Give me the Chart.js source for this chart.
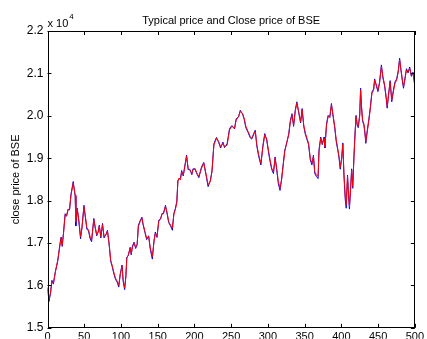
<!DOCTYPE html>
<html>
<head>
<meta charset="utf-8">
<script src="https://cdn.jsdelivr.net/npm/chart.js"></script>
<style>
html,body{margin:0;padding:0;background:#fff;}
#wrap{width:427px;height:339px;position:relative;}
</style>
</head>
<body>
<div id="wrap"><canvas id="c" width="427" height="339"></canvas></div>
<script>
// ---- data (prices in rupees; axis shows x 10^4) ----
const days = [0,2,4,6,8,10.6,14,17,18.6,20,21.7,24,26,28,30,32,35,37.7,38.6,40.5,42.6,45,47,49.6,51,53.6,55.8,58,60,63,64.7,67,69,70.5,72.6,74.9,77,79.8,81.6,83.8,86,88,90.4,92.6,94.8,97,99,101.5,103,105,106.7,108,110,112.5,114,115.6,117.8,120,122,123.7,126,128.5,130,132.6,135,137.7,139.8,142.7,145,146.8,149,151.5,153.8,156,157.9,160.6,162.8,165,167.6,170,172,174,176,177.5,179,181,182.6,184.8,187,189.3,191.5,193.7,196.5,198,200.7,203.7,206,209.6,212.7,215.7,218.6,221.6,223.9,226.5,230,233,235.6,238.8,241,244.5,247.8,251,254.6,256.8,260,262.4,265.5,267.7,270,273,276,278,280.6,282.8,285,287.5,290.5,293,295.7,298.4,301,303,305.3,307.6,309.8,312,314.2,316.5,318.7,320.9,323,325.3,328.4,330.6,332.8,335,337.2,339.4,342,344.5,346.6,348.8,351,353.2,355.4,357.7,359.9,362,363.8,366,368.3,369.6,371.9,374,376.4,377.6,379.8,382,384.3,386.5,388.7,391,393,394.9,396.7,398.5,400.5,402,403.5,405.3,406.6,408.4,409.7,411,412.8,414,415.5,417.2,418.7,420,421.8,423,425,426.2,427.5,428.9,430.6,432,433.3,435,437.5,439.5,441.6,443.9,445.3,447.7,449.8,452,454.5,456.6,458.9,461,462.4,464.6,466.4,468.6,470.8,473,475.3,477.5,479.3,481,482.8,484.6,486.4,488.6,490.8,493,495.3,497.5,500];

const typicalPrice = [15900,15680,15820,16090,16050,16300,16600,16950,17120,16950,17200,17660,17650,17780,17800,18130,18410,18130,17500,17800,17550,17150,17360,17860,17700,17360,17310,17150,17070,17550,17400,17200,17250,17400,17150,17430,17150,17200,17280,17000,16600,16470,16300,16170,16100,16000,16250,16450,16120,15940,16200,16640,16720,16880,16750,16900,17000,16900,16950,17390,17500,17590,17460,17270,17110,17150,16900,16680,17040,17230,17150,17510,17580,17670,17710,17860,17710,17500,17420,17350,17670,17790,17950,18450,18530,18490,18680,18600,18800,19040,18760,18720,18640,18720,18760,18640,18570,18760,18880,18640,18370,18450,18680,19310,19470,19390,19270,19350,19270,19310,19670,19750,19710,19900,19980,20100,20060,19940,19750,19630,19510,19470,19550,19630,19310,19080,18880,19240,19550,19450,19160,18960,18760,18680,19000,18760,18450,18290,18490,18840,19160,19350,19550,19860,20020,19780,20100,20300,20100,19860,20140,19780,19590,19470,19350,19000,18880,19040,18680,18610,18570,19160,19470,19350,19470,19270,19780,19980,19980,20260,20020,19750,19430,19240,19060,18780,19000,19330,18650,18100,17900,18570,18180,17860,18330,18720,18330,19040,19590,19980,19780,19750,20000,20610,20220,19900,19820,19630,19390,19590,19900,20180,20530,20600,20840,20730,20600,20770,21160,20920,20730,20450,20220,20530,20800,20370,20570,20770,20840,21040,21320,21120,20880,20690,20840,21080,21040,21120,20960,21000,20750];

const closePrice = [15950,15620,15800,16120,16030,16320,16580,16990,17140,16920,17230,17690,17630,17800,17780,18150,18450,18100,17400,17820,17520,17100,17380,17890,17680,17320,17290,17100,17030,17580,17380,17170,17270,17420,17120,17460,17120,17210,17300,16980,16570,16450,16270,16140,16080,15960,16270,16480,16100,15900,16230,16670,16700,16900,16720,16930,17020,16870,16970,17420,17520,17610,17440,17250,17080,17170,16860,16620,17060,17260,17130,17540,17560,17700,17690,17890,17690,17480,17400,17300,17700,17810,17980,18480,18510,18520,18710,18580,18830,19070,18730,18740,18610,18750,18740,18620,18540,18790,18900,18610,18330,18470,18700,19340,19490,19370,19240,19380,19250,19340,19700,19770,19690,19930,19970,20130,20040,19920,19720,19610,19480,19450,19580,19660,19280,19040,18840,19270,19580,19430,19120,18920,18730,18640,19030,18730,18400,18240,18520,18870,19190,19330,19580,19890,20050,19750,20130,20330,20070,19830,20170,19750,19560,19440,19320,18960,18840,19070,18640,18570,18520,19200,19500,19320,19500,19240,19810,20010,19960,20290,19990,19720,19400,19210,19030,18740,19030,19360,18600,18020,17820,18600,18140,17800,18360,18750,18290,19070,19620,20010,19750,19720,20030,20650,20190,19870,19790,19600,19350,19620,19930,20210,20560,20630,20870,20700,20570,20800,21200,20890,20700,20410,20180,20560,20830,20330,20600,20800,20870,21070,21360,21090,20850,20650,20870,21110,21010,21150,20930,21030,20700];

const xTicks = [0,50,100,150,200,250,300,350,400,450,500];
const yTicks = [15000,16000,17000,18000,19000,20000,21000,22000];

const FONT = 'Liberation Sans, Arial, Helvetica, sans-serif';

const toPts = (vals) => days.map((d, i) => ({x: d, y: vals[i]}));

const framePlugin = {
  id: 'matlabFrame',
  afterDraw(chart) {
    const {ctx, chartArea: a, scales} = chart;
    const xs = scales.x, ys = scales.y;
    ctx.save();
    ctx.strokeStyle = '#000';
    ctx.lineWidth = 1;
    // box
    ctx.strokeRect(Math.round(a.left) + 0.5, Math.round(a.top) + 0.5,
                   Math.round(a.right - a.left) - 1, Math.round(a.bottom - a.top) - 1);
    // inward ticks
    const tl = 4;
    ctx.beginPath();
    xTicks.forEach(v => {
      const px = Math.round(xs.getPixelForValue(v)) + 0.5;
      ctx.moveTo(px, a.bottom); ctx.lineTo(px, a.bottom - tl);
      ctx.moveTo(px, a.top); ctx.lineTo(px, a.top + tl);
    });
    yTicks.forEach(v => {
      const py = Math.round(ys.getPixelForValue(v)) + 0.5;
      ctx.moveTo(a.left, py); ctx.lineTo(a.left + tl, py);
      ctx.moveTo(a.right, py); ctx.lineTo(a.right - tl, py);
    });
    ctx.stroke();
    // title
    ctx.fillStyle = '#000';
    ctx.font = '11px ' + FONT;
    ctx.textAlign = 'center';
    ctx.textBaseline = 'alphabetic';
    ctx.fillText('Typical price and Close price of BSE', (a.left + a.right) / 2, 24);
    // exponent label
    ctx.textAlign = 'left';
    ctx.font = '11px ' + FONT;
    ctx.fillText('x 10', a.left, 27);
    const w = ctx.measureText('x 10').width;
    ctx.font = '8px ' + FONT;
    ctx.fillText('4', a.left + w + 1, 19);
    // y axis label
    ctx.font = '11px ' + FONT;
    ctx.translate(19, (a.top + a.bottom) / 2);
    ctx.rotate(-Math.PI / 2);
    ctx.textAlign = 'center';
    ctx.fillText('close price of BSE', 0, 0);
    ctx.restore();
  }
};

new Chart(document.getElementById('c'), {
  type: 'line',
  data: {
    datasets: [
      {label: 'Typical price', data: toPts(typicalPrice), borderColor: '#ff0000', borderWidth: 1, pointRadius: 0, tension: 0, fill: false},
      {label: 'Close price', data: toPts(closePrice), borderColor: '#0000ff', borderWidth: 1, pointRadius: 0, tension: 0, fill: false}
    ]
  },
  options: {
    responsive: false,
    animation: false,
    events: [],
    layout: {padding: {left: 0, right: 4, top: 31, bottom: 0}},
    plugins: {legend: {display: false}, tooltip: {enabled: false}, title: {display: false}},
    scales: {
      x: {
        type: 'linear', min: 0, max: 500,
        grid: {display: false, drawTicks: false},
        border: {display: false},
        afterBuildTicks(s) { s.ticks = xTicks.map(v => ({value: v})); },
        afterFit(s) { s.height = 11; },
        ticks: {autoSkip: false, maxRotation: 0, padding: 3, color: '#000', font: {family: FONT, size: 11}}
      },
      y: {
        type: 'linear', min: 15000, max: 22000,
        grid: {display: false, drawTicks: false},
        border: {display: false},
        afterBuildTicks(s) { s.ticks = yTicks.map(v => ({value: v})); },
        afterFit(s) { s.width = 47.5; },
        ticks: {padding: 4, color: '#000', font: {family: FONT, size: 12},
          callback: v => (v / 10000).toFixed(1)}
      }
    }
  },
  plugins: [framePlugin]
});
</script>
</body>
</html>
